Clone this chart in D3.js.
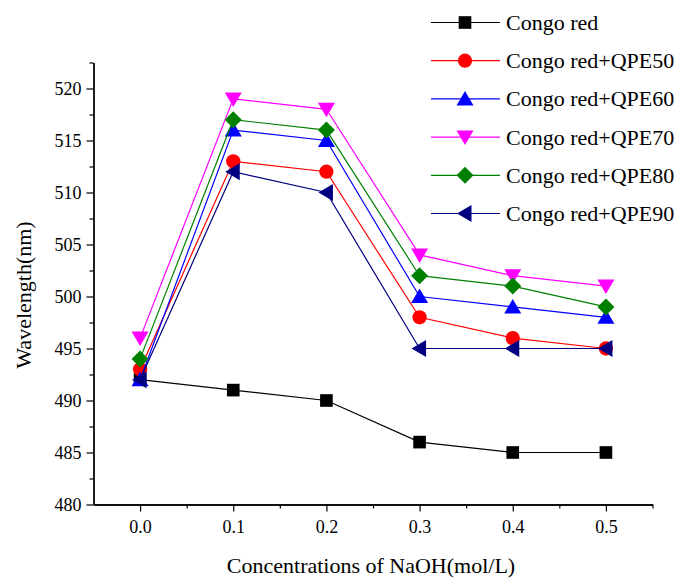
<!DOCTYPE html>
<html>
<head>
<meta charset="utf-8">
<script src="https://cdn.jsdelivr.net/npm/d3@7"></script>
<style>
  html, body { margin: 0; padding: 0; background: #fff; }
  svg { display: block; }
  svg text { font-family: "Liberation Serif", "Times New Roman", serif; }
</style>
</head>
<body>
<svg id="chart" width="680" height="579"></svg>
<script>
// ---- data ----
const concentrations = [0.0, 0.1, 0.2, 0.3, 0.4, 0.5];
const xTickLabels = ["0.0", "0.1", "0.2", "0.3", "0.4", "0.5"];
const yTickValues = [480, 485, 490, 495, 500, 505, 510, 515, 520];
const seriesNames = ["Congo red", "Congo red+QPE50", "Congo red+QPE60", "Congo red+QPE70", "Congo red+QPE80", "Congo red+QPE90"];
const congoRed = [492, 491, 490, 486, 485, 485];
const qpe50 = [493, 513, 512, 498, 496, 495];
const qpe60 = [492, 516, 515, 500, 499, 498];
const qpe70 = [496, 519, 518, 504, 502, 501];
const qpe80 = [494, 517, 516, 502, 501, 499];
const qpe90 = [492, 512, 510, 495, 495, 495];
const seriesValues = [congoRed, qpe50, qpe60, qpe70, qpe80, qpe90];
const seriesColors = ["#000000", "#ff0000", "#0000ff", "#ff00ff", "#008000", "#000080"];
const seriesSymbols = ["square", "circle", "triUp", "triDown", "diamond", "triLeft"];

// ---- layout ----
const FONT = "Liberation Serif, Times New Roman, serif";
const svg = d3.select("#chart");
const plotLeft = 93.5, plotRight = 652.5, plotTop = 62.5, plotBottom = 504.5;

const x = d3.scaleLinear().domain([-0.05, 0.55]).range([plotLeft, plotRight]);
const y = d3.scaleLinear().domain([480, 522.5]).range([plotBottom, plotTop]);

function symbolPath(type) {
  switch (type) {
    case "square": return d3.symbol().type(d3.symbolSquare).size(160)();
    case "circle": return d3.symbol().type(d3.symbolCircle).size(160)();
    case "diamond": return "M0,-8.5L8.5,0L0,8.5L-8.5,0Z";
    case "triUp": return "M0,-8L8.5,6.5L-8.5,6.5Z";
    case "triDown": return "M0,8L8.5,-6.5L-8.5,-6.5Z";
    case "triLeft": return "M-8,0L6.5,-8.5L6.5,8.5Z";
  }
}

// axes
const yAxis = d3.axisLeft(y).tickValues(yTickValues).tickFormat(d3.format("d")).tickSize(7).tickSizeOuter(0);
const yMinor = d3.axisLeft(y).tickValues(d3.range(482.5, 523, 5)).tickFormat("").tickSize(4).tickSizeOuter(0);
const xAxis = d3.axisBottom(x).tickValues(concentrations).tickFormat((d, i) => xTickLabels[i]).tickSize(7).tickSizeOuter(0);
const xMinor = d3.axisBottom(x).tickValues([0.05, 0.15, 0.25, 0.35, 0.45, 0.55]).tickFormat("").tickSize(4).tickSizeOuter(0);

function styleAxis(g) {
  g.attr("font-family", FONT);
  g.selectAll("path").attr("stroke", "#000").attr("stroke-width", 1.3);
  g.selectAll("line").attr("stroke", "#000").attr("stroke-width", 1.2);
  g.selectAll("text").attr("font-family", FONT).attr("font-size", 18).attr("fill", "#000");
}

svg.append("g").attr("transform", `translate(${plotLeft},0)`).call(yMinor).call(styleAxis);
svg.append("g").attr("transform", `translate(${plotLeft},0)`).call(yAxis).call(styleAxis)
  .selectAll("text").attr("dx", "-2");
svg.append("g").attr("transform", `translate(0,${plotBottom})`).call(xMinor).call(styleAxis);
svg.append("g").attr("transform", `translate(0,${plotBottom})`).call(xAxis).call(styleAxis)
  .selectAll("text").attr("dy", "1.0em");

// axis titles
svg.append("text")
  .attr("x", 371).attr("y", 573)
  .attr("text-anchor", "middle")
  .attr("font-family", FONT)
  .attr("font-size", 22)
  .text("Concentrations of NaOH(mol/L)");
svg.append("text")
  .attr("transform", "translate(31,295) rotate(-90)")
  .attr("text-anchor", "middle")
  .attr("font-family", FONT)
  .attr("font-size", 22)
  .text("Wavelength(nm)");

// series
const line = d3.line().x((d, i) => x(concentrations[i])).y(d => y(d));
seriesValues.forEach((vals, si) => {
  const g = svg.append("g");
  g.append("path").attr("d", line(vals)).attr("fill", "none")
    .attr("stroke", seriesColors[si]).attr("stroke-width", 1.2);
  g.selectAll("path.m").data(vals).enter().append("path").attr("class", "m")
    .attr("d", symbolPath(seriesSymbols[si]))
    .attr("transform", (d, i) => `translate(${x(concentrations[i])},${y(d)})`)
    .attr("fill", seriesColors[si]);
});

// legend
const legendRowY = d3.scaleLinear().domain([0, 5]).range([22.5, 213.5]);
seriesNames.forEach((name, si) => {
  const ly = legendRowY(si);
  const g = svg.append("g");
  g.append("line").attr("x1", 431).attr("x2", 500).attr("y1", ly).attr("y2", ly)
    .attr("stroke", seriesColors[si]).attr("stroke-width", 1.2);
  g.append("path").attr("d", symbolPath(seriesSymbols[si]))
    .attr("transform", `translate(465,${ly})`).attr("fill", seriesColors[si]);
  g.append("text").attr("x", 506).attr("y", ly + 7.5)
    .attr("font-family", FONT)
    .attr("font-size", 22).text(name);
});
</script>
</body>
</html>
